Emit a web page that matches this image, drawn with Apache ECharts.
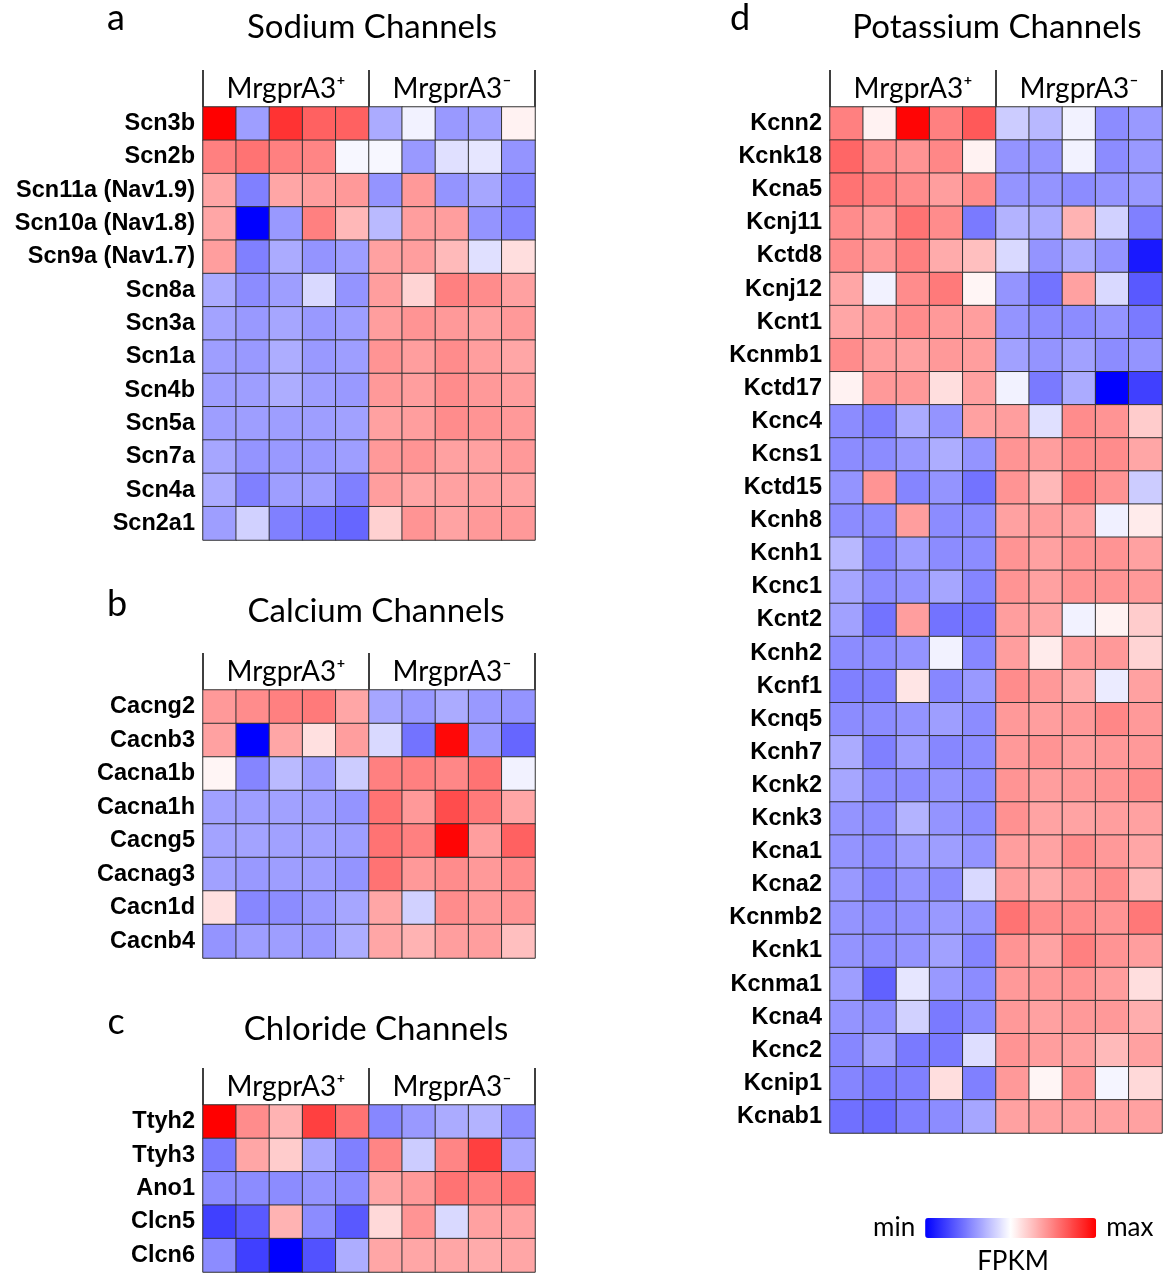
<!DOCTYPE html>
<html><head><meta charset="utf-8">
<script src="https://cdn.jsdelivr.net/npm/echarts@6/dist/echarts.min.js"></script>
<style>html,body{margin:0;padding:0;background:#fff}#c{width:1164px;height:1275px}</style>
</head><body><div id="c"></div>
<script>
const groups = ['MrgprA3\u207A', 'MrgprA3\u207B'];
const samples = ['A1','A2','A3','A4','A5','B1','B2','B3','B4','B5'];

const sodiumGenes = ['Scn3b','Scn2b','Scn11a (Nav1.9)','Scn10a (Nav1.8)','Scn9a (Nav1.7)','Scn8a','Scn3a','Scn1a','Scn4b','Scn5a','Scn7a','Scn4a','Scn2a1'];
const sodiumValues = [
  [1.0,-0.38,0.8,0.62,0.62,-0.33,-0.05,-0.4,-0.37,0.05],
  [0.5,0.55,0.5,0.48,-0.03,-0.03,-0.4,-0.12,-0.1,-0.42],
  [0.35,-0.5,0.35,0.38,0.4,-0.42,0.4,-0.42,-0.35,-0.48],
  [0.35,-1.0,-0.4,0.5,0.28,-0.27,0.38,0.38,-0.42,-0.48],
  [0.38,-0.5,-0.33,-0.42,-0.38,0.37,0.38,0.27,-0.12,0.13],
  [-0.33,-0.45,-0.38,-0.15,-0.42,0.38,0.17,0.5,0.45,0.37],
  [-0.36,-0.4,-0.35,-0.4,-0.38,0.38,0.42,0.4,0.37,0.4],
  [-0.38,-0.4,-0.32,-0.4,-0.38,0.42,0.38,0.45,0.38,0.35],
  [-0.38,-0.38,-0.32,-0.38,-0.4,0.4,0.38,0.45,0.4,0.38],
  [-0.38,-0.38,-0.38,-0.38,-0.37,0.37,0.38,0.45,0.42,0.4],
  [-0.35,-0.42,-0.4,-0.4,-0.38,0.4,0.42,0.37,0.37,0.4],
  [-0.33,-0.5,-0.38,-0.38,-0.5,0.38,0.35,0.37,0.37,0.36],
  [-0.38,-0.18,-0.5,-0.55,-0.6,0.18,0.42,0.36,0.4,0.4]
];

const calciumGenes = ['Cacng2','Cacnb3','Cacna1b','Cacna1h','Cacng5','Cacnag3','Cacn1d','Cacnb4'];
const calciumValues = [
  [0.4,0.45,0.5,0.52,0.35,-0.35,-0.4,-0.33,-0.4,-0.42],
  [0.37,-1.0,0.35,0.12,0.38,-0.15,-0.55,0.97,-0.4,-0.6],
  [0.04,-0.48,-0.27,-0.38,-0.2,0.5,0.5,0.47,0.55,-0.05],
  [-0.37,-0.38,-0.37,-0.38,-0.42,0.55,0.4,0.7,0.52,0.35],
  [-0.36,-0.36,-0.37,-0.37,-0.38,0.55,0.5,0.98,0.38,0.62],
  [-0.37,-0.4,-0.38,-0.38,-0.42,0.55,0.4,0.45,0.4,0.45],
  [0.12,-0.47,-0.45,-0.4,-0.35,0.35,-0.18,0.45,0.4,0.42],
  [-0.42,-0.38,-0.38,-0.4,-0.32,0.35,0.3,0.38,0.38,0.25]
];

const chlorideGenes = ['Ttyh2','Ttyh3','Ano1','Clcn5','Clcn6'];
const chlorideValues = [
  [1.0,0.45,0.3,0.75,0.55,-0.47,-0.4,-0.33,-0.3,-0.45],
  [-0.52,0.35,0.2,-0.35,-0.5,0.48,-0.2,0.48,0.75,-0.35],
  [-0.45,-0.45,-0.45,-0.42,-0.45,0.35,0.4,0.55,0.5,0.55],
  [-0.75,-0.65,0.3,-0.45,-0.65,0.15,0.42,-0.15,0.37,0.37],
  [-0.45,-0.75,-1.0,-0.68,-0.32,0.35,0.35,0.35,0.33,0.35]
];

const potassiumGenes = ['Kcnn2','Kcnk18','Kcna5','Kcnj11','Kctd8','Kcnj12','Kcnt1','Kcnmb1','Kctd17','Kcnc4','Kcns1','Kctd15','Kcnh8','Kcnh1','Kcnc1','Kcnt2','Kcnh2','Kcnf1','Kcnq5','Kcnh7','Kcnk2','Kcnk3','Kcna1','Kcna2','Kcnmb2','Kcnk1','Kcnma1','Kcna4','Kcnc2','Kcnip1','Kcnab1'];
const potassiumValues = [
  [0.5,0.05,0.98,0.5,0.65,-0.2,-0.28,-0.05,-0.45,-0.4],
  [0.6,0.45,0.42,0.47,0.05,-0.42,-0.42,-0.05,-0.45,-0.4],
  [0.55,0.5,0.45,0.38,0.45,-0.42,-0.42,-0.45,-0.42,-0.4],
  [0.45,0.4,0.55,0.45,-0.52,-0.3,-0.33,0.3,-0.18,-0.5],
  [0.45,0.4,0.5,0.33,0.25,-0.15,-0.42,-0.33,-0.42,-0.9],
  [0.35,-0.05,0.45,0.52,0.04,-0.42,-0.55,0.37,-0.15,-0.65],
  [0.35,0.38,0.45,0.4,0.38,-0.42,-0.45,-0.45,-0.42,-0.52],
  [0.45,0.38,0.37,0.4,0.38,-0.37,-0.42,-0.37,-0.45,-0.42],
  [0.05,0.4,0.4,0.13,0.37,-0.05,-0.52,-0.33,-1.0,-0.75],
  [-0.45,-0.5,-0.33,-0.42,0.37,0.38,-0.12,0.45,0.42,0.2],
  [-0.45,-0.45,-0.4,-0.32,-0.42,0.42,0.38,0.45,0.45,0.35],
  [-0.42,0.42,-0.48,-0.42,-0.55,0.42,0.28,0.5,0.42,-0.2],
  [-0.45,-0.45,0.38,-0.45,-0.45,0.37,0.38,0.37,-0.06,0.08],
  [-0.28,-0.48,-0.38,-0.45,-0.45,0.42,0.37,0.42,0.42,0.37],
  [-0.35,-0.45,-0.42,-0.35,-0.48,0.42,0.37,0.42,0.42,0.4],
  [-0.37,-0.55,0.38,-0.55,-0.55,0.38,0.35,-0.05,0.05,0.2],
  [-0.45,-0.45,-0.42,-0.05,-0.47,0.38,0.08,0.38,0.4,0.17],
  [-0.5,-0.5,0.1,-0.47,-0.4,0.45,0.4,0.33,-0.08,0.37],
  [-0.45,-0.45,-0.42,-0.38,-0.45,0.4,0.38,0.4,0.47,0.4],
  [-0.33,-0.5,-0.38,-0.47,-0.45,0.4,0.42,0.38,0.4,0.4],
  [-0.35,-0.45,-0.45,-0.42,-0.45,0.42,0.38,0.4,0.42,0.45],
  [-0.42,-0.45,-0.3,-0.42,-0.45,0.43,0.36,0.36,0.38,0.37],
  [-0.42,-0.45,-0.38,-0.38,-0.42,0.38,0.36,0.45,0.4,0.35],
  [-0.4,-0.48,-0.42,-0.45,-0.15,0.38,0.33,0.4,0.45,0.28],
  [-0.42,-0.45,-0.43,-0.4,-0.42,0.55,0.45,0.45,0.42,0.53],
  [-0.42,-0.45,-0.42,-0.37,-0.48,0.42,0.36,0.5,0.42,0.38],
  [-0.38,-0.62,-0.1,-0.4,-0.45,0.4,0.4,0.42,0.38,0.13],
  [-0.42,-0.45,-0.18,-0.52,-0.45,0.4,0.37,0.4,0.4,0.32],
  [-0.47,-0.38,-0.52,-0.52,-0.13,0.42,0.38,0.37,0.27,0.37],
  [-0.48,-0.52,-0.5,0.13,-0.5,0.4,0.04,0.4,-0.04,0.15],
  [-0.56,-0.58,-0.5,-0.45,-0.35,0.37,0.37,0.37,0.37,0.37]
];

const FONT = 'Lato';
const LABEL_FONT = '"Liberation Sans", Arial, sans-serif';
const panels = [
  {genes: sodiumGenes, values: sodiumValues, grid: {left: 203, top: 107, width: 332, height: 433}},
  {genes: calciumGenes, values: calciumValues, grid: {left: 203, top: 690, width: 332, height: 268}},
  {genes: chlorideGenes, values: chlorideValues, grid: {left: 203, top: 1105, width: 332, height: 167}},
  {genes: potassiumGenes, values: potassiumValues, grid: {left: 830, top: 107, width: 332, height: 1026}}
];

const grids = [], xAxes = [], yAxes = [], series = [];
panels.forEach((p, i) => {
  grids.push(Object.assign({containLabel: false}, p.grid));
  xAxes.push({type: 'category', gridIndex: i, data: samples, show: false});
  xAxes.push({
    type: 'category', gridIndex: i, data: groups, position: 'top',
    axisLine: {show: false},
    axisTick: {show: true, interval: 0, length: 37, lineStyle: {color: '#000', width: 1.5}},
    axisLabel: {show: true, fontFamily: FONT, fontSize: 28, color: '#000', margin: 4}
  });
  yAxes.push({
    type: 'category', gridIndex: i, data: p.genes, inverse: true,
    axisLine: {show: false}, axisTick: {show: false},
    axisLabel: {fontFamily: LABEL_FONT, fontWeight: 'bold', fontSize: 23.5, color: '#000', margin: 8}
  });
  const data = [];
  p.values.forEach((row, r) => row.forEach((v, c) => data.push([c, r, v])));
  series.push({
    type: 'heatmap', xAxisIndex: i * 2, yAxisIndex: i, data: data,
    itemStyle: {borderColor: '#333', borderWidth: 1},
    emphasis: {disabled: true}
  });
});

const titleStyle = {fontFamily: FONT, fontSize: 33, fill: '#000', textAlign: 'center', textVerticalAlign: 'middle'};
const letterStyle = {fontFamily: FONT, fontSize: 36, fill: '#000', textAlign: 'center', textVerticalAlign: 'middle'};
const texts = [
  ['a', 116, 18, letterStyle], ['Sodium Channels', 372, 27, titleStyle],
  ['b', 117, 604, letterStyle], ['Calcium Channels', 376, 611, titleStyle],
  ['c', 116, 1022, letterStyle], ['Chloride Channels', 376, 1029, titleStyle],
  ['d', 740, 18, letterStyle], ['Potassium Channels', 997, 27, titleStyle],
  ['FPKM', 1013, 1262, Object.assign({}, titleStyle, {fontSize: 26})]
];

const chart = echarts.init(document.getElementById('c'), null, {renderer: 'canvas'});
chart.setOption({
  animation: false,
  backgroundColor: '#fff',
  grid: grids, xAxis: xAxes, yAxis: yAxes, series: series,
  visualMap: {
    type: 'continuous', min: -1, max: 1, calculable: false,
    orient: 'horizontal', left: 858, top: 1200,
    itemWidth: 20, itemHeight: 171, text: ['max', 'min'], textGap: 10,
    textStyle: {fontFamily: FONT, fontSize: 26, color: '#000'},
    inRange: {color: ['#0000ff', '#ffffff', '#ff0000']}
  },
  graphic: texts.map(t => ({type: 'text', x: t[1], y: t[2], style: Object.assign({text: t[0]}, t[3])}))
});
</script></body></html>
